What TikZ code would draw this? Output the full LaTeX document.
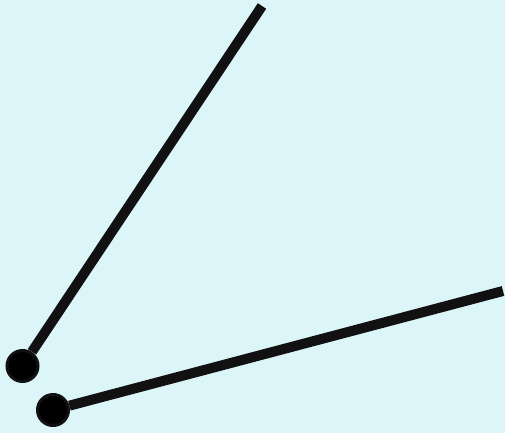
\documentclass[tikz,border=0pt]{standalone}
\definecolor{skybg}{RGB}{220,245,249}
\definecolor{inkline}{RGB}{17,17,17}
\tikzset{
  pivot/.style={circle, fill=black, draw=inkline, line width=3pt, minimum size=31pt, inner sep=0pt},
  arm/.style={draw=inkline, line width=10pt}
}
\begin{document}
\begin{tikzpicture}[x=1pt, y=-1pt]
    % Background
    \fill[skybg] (0,0) rectangle (505,433);
    \useasboundingbox (0,0) rectangle (505,433);
    % Free ends of the arms
    \coordinate (tipA) at (262,6);
    \coordinate (tipB) at (503,291);
    % Pivots
    \node[pivot] (pivA) at (22.5,366) {};
    \node[pivot] (pivB) at (53,410) {};
    % Arms
    \draw[arm] (pivA) -- (tipA);
    \draw[arm] (pivB) -- (tipB);
\end{tikzpicture}
\end{document}
